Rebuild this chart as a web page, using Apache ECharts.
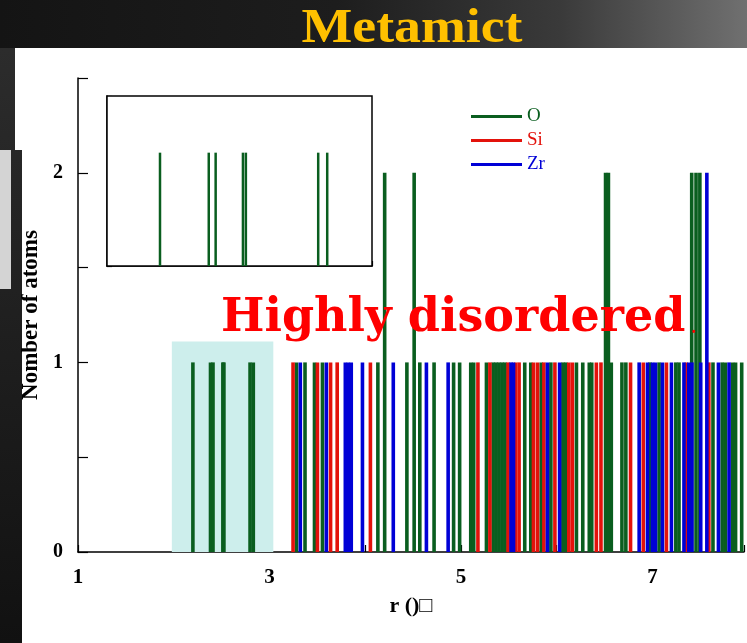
<!DOCTYPE html>
<html><head><meta charset="utf-8">
<script src="https://cdn.jsdelivr.net/npm/echarts@6/dist/echarts.min.js"></script>
<style>html,body{margin:0;padding:0;background:#1b1b1b}#c{width:747px;height:643px}</style>
</head><body><div id="c"></div>
<script>
// ---- data (r in Å, number of atoms) ----
const oR = [2.2,2.384,2.41,2.513,2.524,2.797,2.831,3.282,3.371,3.47,3.553,4.132,4.203,4.435,4.511,4.57,4.719,4.923,4.986,5.102,5.133,5.266,5.336,5.367,5.398,5.43,5.461,5.666,5.729,5.838,5.939,6.064,6.095,6.206,6.272,6.34,6.366,6.51,6.54,6.57,6.681,6.722,6.974,7.069,7.244,7.277,7.41,7.455,7.495,7.632,7.728,7.762,7.837,7.868,7.932];
const oN = [1,1,1,1,1,1,1,1,1,1,1,1,2,1,2,1,1,1,1,1,1,1,1,1,1,1,1,1,1,1,1,1,1,1,1,1,1,2,2,1,1,1,1,1,1,1,2,2,2,1,1,1,1,1,1];
const siR = [3.246,3.501,3.638,3.707,4.054,5.177,5.302,5.492,5.57,5.607,5.757,5.799,5.866,5.981,6.126,6.163,6.414,6.462,6.771,6.904,7.146,7.353,7.589];
const siN = siR.map(() => 1);
const zrR = [3.322,3.594,3.792,3.823,3.854,3.971,4.293,4.639,4.866,5.523,5.549,5.903,6.03,6.861,6.948,7.0,7.031,7.104,7.198,7.329,7.379,7.412,7.504,7.568,7.689,7.8];
const zrN = [1,1,1,1,1,1,1,1,1,1,1,1,1,1,1,1,1,1,1,1,1,1,1,2,1,1];
const insetRange = [2, 3];
const highlightX = [1.98, 3.04];
const highlightY = 1.11;
const xLabels = [1, 3, 5, 7];
const yLabels = [0, 1, 2];

const GREEN = '#0a5e1f', RED = '#e3120b', BLUE = '#0000d6';
const pairs = (r, n) => r.map((v, i) => [v, n[i]]);
const oInset = pairs(oR, oN).filter(p => p[0] >= insetRange[0] && p[0] <= insetRange[1]);
const serif = 'Liberation Serif';

function stick(width) {
  return function (params, api) {
    const top = api.coord([api.value(0), api.value(1)]);
    const base = api.coord([api.value(0), 0]);
    return {
      type: 'rect',
      shape: {x: top[0] - width / 2, y: top[1], width: width, height: base[1] - top[1]},
      style: {fill: api.visual('color')}
    };
  };
}

const chart = echarts.init(document.getElementById('c'), null, {renderer: 'canvas'});
chart.setOption({
  backgroundColor: '#1b1b1b',
  animation: false,
  graphic: [
    {type: 'rect', z: -20, shape: {x: 0, y: 0, width: 747, height: 48},
     style: {fill: {type: 'linear', x: 0, y: 0, x2: 1, y2: 0, colorStops: [
       {offset: 0, color: '#141414'}, {offset: 0.45, color: '#1d1d1d'},
       {offset: 0.75, color: '#3a3a3a'}, {offset: 1, color: '#707070'}]}}},
    {type: 'rect', z: -20, shape: {x: 0, y: 48, width: 22, height: 595},
     style: {fill: {type: 'linear', x: 0, y: 0, x2: 0, y2: 1, colorStops: [
       {offset: 0, color: '#2c2c2c'}, {offset: 1, color: '#111'}]}}},
    {type: 'rect', z: -19, shape: {x: 0, y: 150, width: 11, height: 139}, style: {fill: '#d4d4d4'}},
    {type: 'rect', z: -19, shape: {x: 15, y: 48, width: 7, height: 102}, style: {fill: '#fff'}},
    {type: 'rect', z: -19, shape: {x: 22, y: 48, width: 725, height: 595}, style: {fill: '#fff'}},
    {type: 'text', z: 10, x: 412, y: 30, scaleX: 1.12,
     style: {text: 'Metamict', fill: '#ffc000', font: 'bold 48px "Liberation Serif"', textAlign: 'center', textVerticalAlign: 'middle'}},
    {type: 'text', z: 100, x: 221, y: 319,
     style: {text: 'Highly disordered', fill: '#ff0000', font: 'bold 46px "DejaVu Serif"', textAlign: 'left', textVerticalAlign: 'middle'}},
    {type: 'text', z: 100, x: 691, y: 329,
     style: {text: '.', fill: '#ff0000', font: 'bold 16px "DejaVu Serif"', textAlign: 'left', textVerticalAlign: 'middle'}}
  ],
  legend: {
    orient: 'vertical', left: 471, top: 107, padding: 0, itemWidth: 51, itemHeight: 3, itemGap: 5,
    icon: 'rect', selectedMode: false,
    textStyle: {fontFamily: serif, fontSize: 19},
    data: [
      {name: 'O', textStyle: {color: GREEN}},
      {name: 'Si', textStyle: {color: RED}},
      {name: 'Zr', textStyle: {color: BLUE}}
    ]
  },
  grid: [
    {left: 78, top: 78, right: 0, height: 474},
    {left: 107, top: 96, width: 265, height: 170, show: true, borderColor: '#000', borderWidth: 1.5, backgroundColor: '#fff', z: 5}
  ],
  xAxis: [
    {type: 'value', gridIndex: 0, min: 1, max: 7.956, interval: 1,
     axisLine: {show: true, lineStyle: {color: '#000', width: 1.5}},
     axisTick: {show: true, inside: true, length: 7, lineStyle: {color: '#000', width: 1.2}},
     axisLabel: {margin: 15, color: '#000', fontFamily: serif, fontWeight: 'bold', fontSize: 21,
       formatter: v => xLabels.includes(v) ? String(v) : ''},
     splitLine: {show: false},
     name: 'r ()\u25A1', nameLocation: 'middle', nameGap: 43,
     nameTextStyle: {color: '#000', fontFamily: serif, fontWeight: 'bold', fontSize: 22}},
    {type: 'value', gridIndex: 1, min: insetRange[0], max: insetRange[1], interval: 0.2,
     axisLine: {show: true, lineStyle: {color: '#000', width: 1.5}},
     axisTick: {show: true, inside: true, length: 5, lineStyle: {color: '#000', width: 1.2}},
     minorTick: {show: true, splitNumber: 2, length: 2, lineStyle: {color: '#5050c8'}},
     axisLabel: {show: false}, splitLine: {show: false}}
  ],
  yAxis: [
    {type: 'value', gridIndex: 0, min: 0, max: 2.5, interval: 0.5,
     axisLine: {show: true, lineStyle: {color: '#000', width: 1.5}},
     axisTick: {show: true, inside: true, length: 10, lineStyle: {color: '#000', width: 1.2}},
     axisLabel: {margin: 15, color: '#000', fontFamily: serif, fontWeight: 'bold', fontSize: 20,
       formatter: v => yLabels.includes(v) ? String(v) : ''},
     splitLine: {show: false},
     name: 'Nomber of atoms', nameLocation: 'middle', nameGap: 25, nameRotate: 90,
     nameTextStyle: {color: '#000', fontFamily: serif, fontWeight: 'bold', fontSize: 23}},
    {type: 'value', gridIndex: 1, min: 0, max: 1.5, interval: 0.5,
     axisLine: {show: true, lineStyle: {color: '#000', width: 1.5}},
     axisTick: {show: true, inside: true, length: 5, lineStyle: {color: '#000', width: 1.2}},
     axisLabel: {show: false}, splitLine: {show: false}}
  ],
  series: [
    {name: 'O', type: 'custom', xAxisIndex: 0, yAxisIndex: 0, data: pairs(oR, oN),
     renderItem: stick(3.6), clip: true, itemStyle: {color: GREEN}, z: 2,
     markArea: {silent: true, itemStyle: {color: '#cdeeec', borderRadius: 2},
       data: [[{xAxis: highlightX[0], yAxis: 0}, {xAxis: highlightX[1], yAxis: highlightY}]]}},
    {name: 'Si', type: 'custom', xAxisIndex: 0, yAxisIndex: 0, data: pairs(siR, siN),
     renderItem: stick(3.6), clip: true, itemStyle: {color: RED}, z: 3},
    {name: 'Zr', type: 'custom', xAxisIndex: 0, yAxisIndex: 0, data: pairs(zrR, zrN),
     renderItem: stick(3.6), clip: true, itemStyle: {color: BLUE}, z: 4},
    {name: 'O', type: 'custom', xAxisIndex: 1, yAxisIndex: 1, data: oInset,
     renderItem: stick(2.5), clip: true, itemStyle: {color: GREEN}, z: 6}
  ]
});
</script></body></html>
